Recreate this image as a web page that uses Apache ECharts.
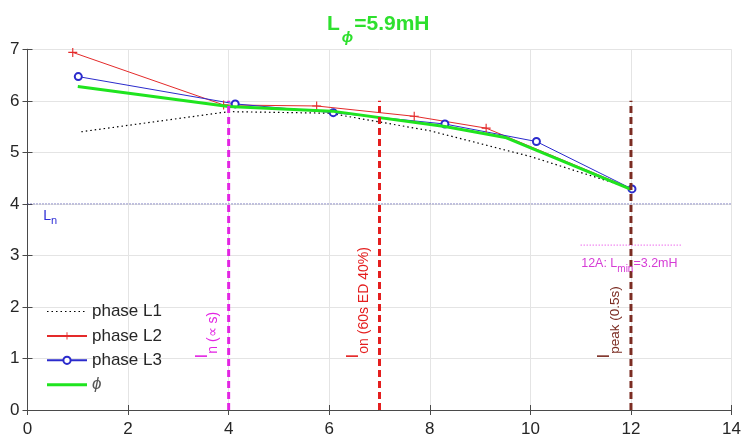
<!DOCTYPE html>
<html><head><meta charset="utf-8">
<script src="https://cdn.jsdelivr.net/npm/echarts@6/dist/echarts.min.js"></script>
<style>html,body{margin:0;padding:0;background:#fff}#c{width:744px;height:438px}</style>
</head><body><div id="c"></div>
<script>
// ---- data ----
const X_TICKS = [0, 2, 4, 6, 8, 10, 12, 14];
const Y_TICKS = [0, 1, 2, 3, 4, 5, 6, 7];
const L1 = [[1.07,5.40],[4,5.79],[6,5.76],[8,5.42],[10,4.92],[12,4.30]];
const L2 = [[0.9,6.94],[3.9,5.92],[5.75,5.90],[7.69,5.70],[9.12,5.47],[12,4.30]];
const L3 = [[1.01,6.47],[4.13,5.94],[6.08,5.77],[8.3,5.55],[10.12,5.21],[12.02,4.29]];
const PHI = [[1,6.28],[4,5.89],[6.05,5.80],[8.3,5.50],[9.5,5.29],[12,4.28]];
const LN_LINE = [[0,4],[14,4]];
const LMIN_LINE = [[11,3.2],[13,3.2]];
const I_N = [[4,0],[4,6]];
const I_ON = [[7,0],[7,6]];
const I_PEAK = [[12,0],[12,6]];
const SERIES_NAMES = ['phase L1','phase L2','phase L3','\u03d5'];

const FONT = "'Liberation Sans', Arial, Helvetica, sans-serif";
const C = {
  red:'#e42a2a', blue:'#2b2bcc', green:'#1fe41f', title:'#2ee02e',
  mag:'#e324e3', redDash:'#e41e1e', brown:'#7b2c22', axis:'#4a4a4a',
  grid:'#e4e4e4', ln:'#33339e', magText:'#d63cd6', lnText:'#2e2ed6'
};
const PLUS = 'path://M7,0H9V7H16V9H9V16H7V9H0V7H7Z';
const CLEAR = 'rgba(0,0,0,0)';

const chart = echarts.init(document.getElementById('c'), null, {renderer:'canvas'});

function plain(name, data, color, width, type, z) {
  return {type:'line', name, data, symbol:'circle', symbolSize:1, showSymbol:false, silent:true, z: z||2,
    lineStyle:{color, width, type}, itemStyle:{color:CLEAR, borderColor:CLEAR, borderWidth:0}, emphasis:{disabled:true}};
}

const option = {
  animation:false,
  backgroundColor:'#ffffff',
  title:{
    text:'{a|L}{b|\u03d5}{a|=5.9mH}',
    left:327, top:14, padding:0,
    textStyle:{
      rich:{
        a:{fontFamily:FONT, fontSize:21, fontWeight:'bold', color:C.title, lineHeight:21, verticalAlign:'top'},
        b:{fontFamily:FONT, fontSize:15, fontStyle:'italic', color:C.title, lineHeight:31, verticalAlign:'bottom', padding:[0,1,0,2]}
      }
    }
  },
  grid:{left:27.5, right:11, top:49.3, bottom:27.5},
  legend:{
    orient:'vertical', left:45.5, top:303, padding:0,
    itemWidth:40, itemHeight:9, itemGap:7.4,
    data:[
      {name:SERIES_NAMES[0], lineStyle:{width:1.2}},
      {name:SERIES_NAMES[1]},
      {name:SERIES_NAMES[2], itemStyle:{borderWidth:1.2}},
      {name:SERIES_NAMES[3], lineStyle:{width:3}}
    ],
    textStyle:{fontFamily:FONT, fontSize:17, color:'#262626'},
    formatter:function(n){ return n === '\u03d5' ? '{i|' + n + '}' : n; },
    selectedMode:false
  },
  xAxis:[{
    type:'value', min:X_TICKS[0], max:X_TICKS[X_TICKS.length-1], interval:2,
    axisLine:{show:true, lineStyle:{color:C.axis, width:1}},
    axisTick:{show:true, inside:true, length:5, lineStyle:{color:C.axis}},
    axisLabel:{fontFamily:FONT, fontSize:17, color:'#262626', margin:11},
    splitLine:{show:true, lineStyle:{color:C.grid, width:1}}
  },{
    type:'value', position:'top', min:0, max:14, interval:2,
    axisLine:{show:true, lineStyle:{color:C.axis, width:1}},
    axisTick:{show:true, inside:true, length:5, lineStyle:{color:C.axis}},
    axisLabel:{show:false}, splitLine:{show:false}
  }],
  yAxis:[{
    type:'value', min:Y_TICKS[0], max:Y_TICKS[Y_TICKS.length-1], interval:1,
    axisLine:{show:true, lineStyle:{color:C.axis, width:1}},
    axisTick:{show:true, inside:true, length:5, lineStyle:{color:C.axis}},
    axisLabel:{fontFamily:FONT, fontSize:17, color:'#262626', margin:8},
    splitLine:{show:true, lineStyle:{color:C.grid, width:1}}
  },{
    type:'value', position:'right', min:0, max:7, interval:1,
    axisLine:{show:true, lineStyle:{color:C.axis, width:1}},
    axisTick:{show:true, inside:true, length:5, lineStyle:{color:C.axis}},
    axisLabel:{show:false}, splitLine:{show:false}
  }],
  series:[
    plain('Ln', LN_LINE, C.ln, 1, [1,2], 1),
    plain('Lmin', LMIN_LINE, C.mag, 1, [1,2], 1),
    plain(SERIES_NAMES[0], L1, '#000000', 1.2, [1.5,3], 2),
    {type:'line', name:SERIES_NAMES[1], data:L2, symbol:PLUS, symbolSize:9, silent:true, z:3,
      lineStyle:{color:C.red, width:1}, itemStyle:{color:C.red}},
    {type:'line', name:SERIES_NAMES[2], data:L3, symbol:'emptyCircle', symbolSize:7, silent:true, z:3,
      lineStyle:{color:C.blue, width:1}, itemStyle:{color:C.blue, borderColor:C.blue, borderWidth:1.2}},
    plain(SERIES_NAMES[3], PHI, C.green, 3, 'solid', 4),
    plain('In', I_N, C.mag, 3, [7,4], 5),
    plain('Ion', I_ON, C.redDash, 3, [7,4], 5),
    plain('Ipeak', I_PEAK, C.brown, 3, [7,4], 5)
  ]
};
option.legend.textStyle.rich = {i:{fontFamily:FONT, fontSize:17, fontStyle:'italic', color:'#555'}};
chart.setOption(option);

// ---- annotation texts, anchored through the chart's own scales ----
const ROT_LABELS = [
  {at:[4, 1.0], sub:'n (\u221d s)', color:C.mag, size:14},
  {at:[7, 1.0], sub:'on (60s ED 40%)', color:C.redDash, size:14},
  {at:[12, 1.0], sub:'peak (0.5s)', color:C.brown, size:13.5}
];
const px = p => chart.convertToPixel({xAxisIndex:0, yAxisIndex:0}, p);
const els = [];
ROT_LABELS.forEach(l => {
  const p = px(l.at);
  els.push({type:'text', x:p[0]-35, y:p[1], rotation:Math.PI/2, silent:true, z:10,
    style:{text:'{m|I}{s|' + l.sub + '}', align:'left', verticalAlign:'top',
      textAlign:'left', textVerticalAlign:'top',
      rich:{
        m:{fontFamily:FONT, fontSize:17, lineHeight:17, verticalAlign:'top', fill:l.color, color:l.color},
        s:{fontFamily:FONT, fontSize:l.size, lineHeight:11 + l.size/2 + 8.5, verticalAlign:'bottom', fill:l.color, color:l.color}
      }}});
});
const pLn = px([0, 4]);
els.push({type:'text', x:pLn[0]+15.8, y:pLn[1]+5.7, silent:true, z:10,
  style:{text:'{a|L}{b|n}', align:'left', verticalAlign:'top', textAlign:'left', textVerticalAlign:'top',
    rich:{
      a:{fontFamily:FONT, fontSize:14, lineHeight:14, verticalAlign:'top', fill:C.lnText, color:C.lnText},
      b:{fontFamily:FONT, fontSize:11, lineHeight:17.3, verticalAlign:'bottom', fill:C.lnText, color:C.lnText}
    }}});
const pMin = px([11, 3.2]);
els.push({type:'text', x:pMin[0]+0.5, y:pMin[1]+12.1, silent:true, z:10,
  style:{text:'{a|12A: L}{b|min}{a|=3.2mH}', align:'left', verticalAlign:'top', textAlign:'left', textVerticalAlign:'top',
    rich:{
      a:{fontFamily:FONT, fontSize:12.5, lineHeight:12.5, verticalAlign:'top', fill:C.magText, color:C.magText},
      b:{fontFamily:FONT, fontSize:10, lineHeight:17, verticalAlign:'bottom', fill:C.magText, color:C.magText}
    }}});
chart.setOption({graphic:{elements:els}});
</script></body></html>
